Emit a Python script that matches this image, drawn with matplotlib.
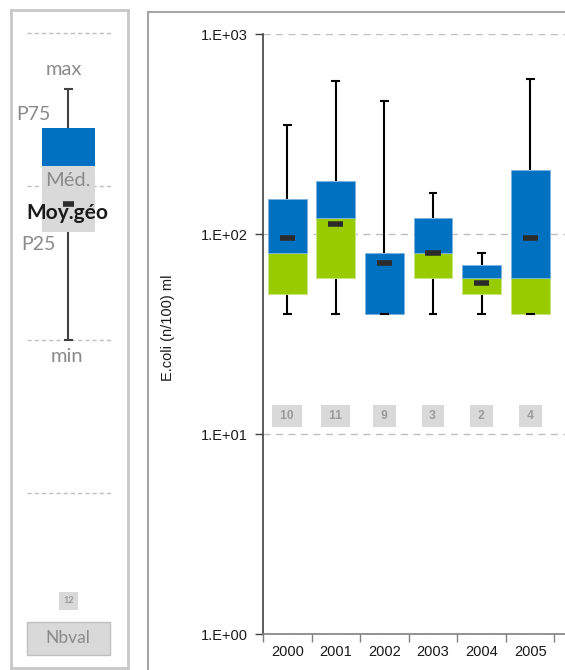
import numpy as np
import matplotlib
matplotlib.use("Agg")
import matplotlib.pyplot as plt
from matplotlib.patches import Rectangle
from matplotlib.ticker import FixedLocator, FuncFormatter, NullFormatter

plt.rcParams["font.family"] = ["Liberation Sans", "DejaVu Sans"]

# ---- data -------------------------------------------------------------
years = ["2000", "2001", "2002", "2003", "2004", "2005"]
val_min = [40, 40, 40, 40, 40, 40]
val_p25 = [50, 60, 40, 60, 50, 40]
val_med = [80, 120, 40, 80, 60, 60]
val_p75 = [150, 185, 80, 120, 70, 210]
val_max = [350, 580, 460, 160, 80, 595]
val_geo = [96, 112, 72, 80, 57, 95]
n_values = [10, 11, 9, 3, 2, 4]

# legend key sample
key_stats = {"min": 10, "p25": 50, "geo": 77, "med": 135, "p75": 240, "max": 430}
key_n = 12

BLUE = "#0070C0"
GREEN = "#99CC00"
LGRAY = "#D9D9D9"
MARK = "#2b2b2b"

W, H = 565, 670
fig = plt.figure(figsize=(W / 100, H / 100), dpi=100)


def fx(px):
    return px / W


def fy(py):
    return (H - py) / H


# ---- main chart panel frame --------------------------------------------
fig.patches.append(Rectangle((fx(148), fy(700)), fx(700) - fx(148), fy(12) - fy(700),
                             transform=fig.transFigure, fill=False,
                             edgecolor="#a6a6a6", linewidth=1.5, clip_on=False))

# ---- main axes ---------------------------------------------------------
ax = fig.add_axes([fx(263), fy(634), fx(263 + 340) - fx(263), fy(34) - fy(634)])
ax.set_yscale("log")
ax.set_ylim(1, 1000)
ax.set_xlim(-0.5, 6.5)

x = np.arange(len(years))
p25 = np.array(val_p25, float)
med = np.array(val_med, float)
p75 = np.array(val_p75, float)

ax.bar(x, med - p25, bottom=p25, width=0.8, color=GREEN, edgecolor="#c8e680",
       linewidth=0.6, zorder=3)
ax.bar(x, p75 - med, bottom=med, width=0.8, color=BLUE, edgecolor="#7fb3e0",
       linewidth=0.6, zorder=3)

ax.vlines(x, val_p75, val_max, color="black", linewidth=1.5, zorder=2)
ax.vlines(x, val_min, val_p25, color="black", linewidth=1.5, zorder=2)
ax.hlines(val_max, x - 0.09, x + 0.09, color="black", linewidth=1.5, zorder=4)
ax.hlines(val_min, x - 0.09, x + 0.09, color="black", linewidth=1.5, zorder=4)

ax.hlines(val_geo, x - 0.155, x + 0.155, color=MARK, linewidth=4,
          capstyle="butt", zorder=5)

for xi, n in zip(x, n_values):
    ax.text(xi, 12.3, f" {n} ", ha="center", va="center", fontsize=8.5,
            fontweight="bold", color="#9a9a9a", zorder=6,
            bbox=dict(boxstyle="square,pad=0.42", facecolor=LGRAY, edgecolor="none"))

ax.yaxis.set_major_locator(FixedLocator([1, 10, 100, 1000]))
ax.yaxis.set_minor_locator(FixedLocator([]))
ax.yaxis.set_major_formatter(FuncFormatter(lambda v, p: f"1.E+{int(round(np.log10(v))):02d}"))
ax.grid(axis="y", which="major", color="#bfbfbf", linestyle=(0, (5, 4)), linewidth=1)
ax.set_axisbelow(True)

ax.xaxis.set_major_locator(FixedLocator(x))
ax.set_xticklabels(years)
ax.xaxis.set_minor_locator(FixedLocator(np.arange(-0.5, 7.0, 1.0)))
ax.xaxis.set_minor_formatter(NullFormatter())
ax.tick_params(axis="x", which="major", length=0, pad=8, labelsize=10.5, labelcolor="#1a1a1a")
ax.tick_params(axis="x", which="minor", length=6, width=1, color="#808080", direction="out")
ax.tick_params(axis="y", which="major", length=6, width=1, color="#404040",
               direction="out", labelsize=10.5, labelcolor="#1a1a1a", pad=5)

for s in ("top", "right"):
    ax.spines[s].set_visible(False)
ax.spines["left"].set_color("#404040")
ax.spines["left"].set_linewidth(1.2)
ax.spines["bottom"].set_color("#808080")
ax.spines["bottom"].set_linewidth(1.2)

ax.set_ylabel("E.coli (n/100) ml", fontsize=10.5, color="#1a1a1a")
ax.yaxis.set_label_coords((175 - 263) / 340, 0.51)

# ---- legend key panel --------------------------------------------------
DEC = 153.3  # pixels per decade in the key
ytop = 10 ** (3 + (33 - 10) / DEC)
ybot = 10 ** (-(668 - 493) / DEC)
lk = fig.add_axes([fx(11), fy(668), fx(128) - fx(11), fy(10) - fy(668)])
lk.set_yscale("log")
lk.set_ylim(ybot, ytop)
lk.set_xlim(0, 1)
lk.set_xticks([])
lk.set_yticks([])
lk.yaxis.set_minor_locator(FixedLocator([]))
for s in lk.spines.values():
    s.set_color("#c8c8c8")
    s.set_linewidth(2)

for dec in [1, 10, 100, 1000]:
    lk.plot([0.14, 0.86], [dec, dec], color="#c0c0c0", linestyle=(0, (3, 2.2)),
            linewidth=1, zorder=1)

cx, bw = 0.491, 0.453
lk.bar(cx, key_stats["med"] - key_stats["p25"], bottom=key_stats["p25"], width=bw,
       color=LGRAY, zorder=2)
lk.bar(cx, key_stats["p75"] - key_stats["med"], bottom=key_stats["med"], width=bw,
       color=BLUE, zorder=3)
lk.vlines(cx, key_stats["p75"], key_stats["max"], color="#404040", linewidth=1.5, zorder=2)
lk.vlines(cx, key_stats["min"], key_stats["p25"], color="#404040", linewidth=1.5, zorder=2)
lk.hlines([key_stats["max"], key_stats["min"]], cx - 0.04, cx + 0.04, color="#404040",
          linewidth=1.5, zorder=4)
lk.hlines(key_stats["geo"], cx - 0.045, cx + 0.045, color=MARK, linewidth=4,
          capstyle="butt", zorder=5)

KEYFONT = ["Lato", "DejaVu Sans"]
KGRAY = "#8a8a8a"


def key_label(text, val, xfrac, dy_px, **kw):
    lk.annotate(text, xy=(xfrac, val), xycoords=("axes fraction", "data"),
                xytext=(0, -dy_px * 0.72), textcoords="offset points",
                ha="center", va="center", family=KEYFONT, zorder=6, **kw)


key_label("max", key_stats["max"], (64 - 11) / 117, -20, fontsize=14.5, color=KGRAY)
key_label("P75", key_stats["p75"], (33 - 11) / 117, -14, fontsize=14, color=KGRAY)
key_label("Méd.", key_stats["med"], (68 - 11) / 117, 14, fontsize=14.5, color=KGRAY)
key_label("Moy.géo", key_stats["geo"], (67 - 11) / 117, 9, fontsize=15,
          color="#1a1a1a", fontweight="bold")
key_label("P25", key_stats["p25"], (38 - 11) / 117, 12, fontsize=14, color=KGRAY)
key_label("min", key_stats["min"], (67 - 11) / 117, 17, fontsize=14.5, color=KGRAY)

lk.text(cx, 10 ** (-(601 - 493) / DEC), str(key_n), ha="center", va="center",
        fontsize=6.5, fontweight="bold", color="#9a9a9a", family=KEYFONT, zorder=6,
        bbox=dict(boxstyle="square,pad=0.5", facecolor=LGRAY, edgecolor="none"))

lk.add_patch(Rectangle(((27 - 11) / 117, (668 - 655) / 658), 83 / 117, 33 / 658,
                       transform=lk.transAxes, facecolor=LGRAY, edgecolor="#bfbfbf",
                       linewidth=1, zorder=3))
lk.text((68 - 11) / 117, (668 - 638) / 658, "Nbval", transform=lk.transAxes,
        ha="center", va="center", fontsize=12.5, color=KGRAY, family=KEYFONT, zorder=6)

fig.savefig("out.png", dpi=100)
